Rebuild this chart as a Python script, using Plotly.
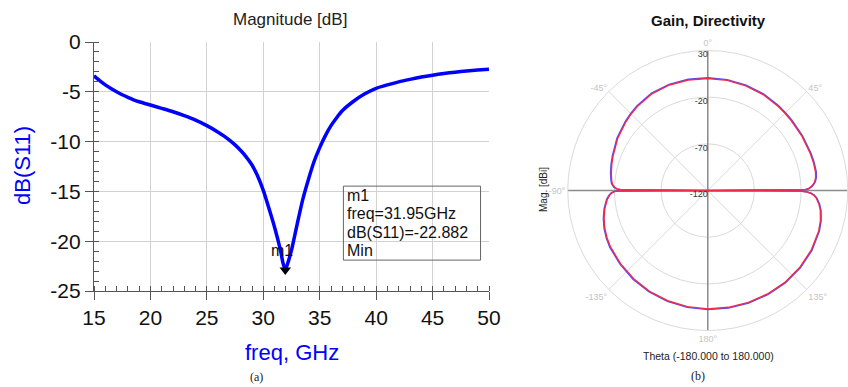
import plotly.graph_objects as go

# ---------------- (a) S11 data ----------------
freq_ghz = [15, 15.5, 16, 16.5, 17, 17.5, 18, 18.5, 19, 19.5, 20, 21, 22, 23, 24, 25, 26,
            26.5, 27, 27.5, 28, 28.5, 29, 29.5, 30, 30.5, 31, 31.5, 31.75, 31.95, 32.2,
            32.5, 33, 33.5, 34, 34.5, 35, 35.5, 36, 36.5, 37, 38, 39, 40, 41, 42, 43, 44,
            45, 46, 47, 48, 49, 50]
s11_db = [-3.4, -3.88, -4.3, -4.67, -5.0, -5.3, -5.56, -5.8, -6.0, -6.17, -6.33, -6.66,
          -7.0, -7.4, -7.85, -8.4, -9.05, -9.42, -9.85, -10.33, -10.9, -11.55, -12.35,
          -13.45, -14.9, -16.7, -18.6, -20.8, -22.2, -22.88, -22.1, -20.9, -18.3, -15.8,
          -13.8, -12.0, -10.6, -9.4, -8.4, -7.6, -6.9, -5.95, -5.2, -4.65, -4.3, -4.0,
          -3.75, -3.52, -3.33, -3.17, -3.03, -2.92, -2.82, -2.73]
m1_freq = 31.95
m1_db = -22.882
x_ticks = [15, 20, 25, 30, 35, 40, 45, 50]
y_ticks = [0, -5, -10, -15, -20, -25]
y_ticktext = ["0", "-5", "-10", "-15", "-20", "-25"]
marker_lines = ["m1", "freq=31.95GHz", "dB(S11)=-22.882", "Min"]

# ---------------- (b) polar pattern data ----------------
theta_deg = [-180, -170, -160, -150, -140, -130, -120, -115, -110, -105, -100, -95, -93,
             -91.5, -90.7, -90.3, -90,
             -89.5, -89, -88, -86, -84, -80, -75, -70, -60, -50, -45, -40, -30, -20, -10,
             0, 10, 20, 30, 40, 45, 50, 60, 70, 75, 80, 83, 85, 86, 87, 88, 89, 89.5,
             90, 90.3, 90.7, 91.5, 92.5, 94, 97, 100, 105, 110, 120, 130, 140, 150, 160,
             170, 180]
gain_dbi = [6.8, 6.4, 5.7, 4.8, 3.5, 2.0, 0.5, -0.8, -2.5, -5.0, -8.0, -12.0, -14.5,
            -17.0, -20.0, -24.0, -120,
            -27.0, -23.0, -20.0, -17.5, -16.5, -15.0, -13.5, -12.0, -8.5, -5.5, -4.0, -2.5,
            -0.3, 0.3, 0.2,
            0.0, -0.2, -0.6, -1.3, -2.4, -3.0, -3.3, -3.5, -3.2, -2.9, -2.8, -3.5, -4.8,
            -6.0, -7.5, -9.5, -12.5, -16.0,
            -120, -22.0, -15.0, -10.0, -6.5, -3.5, 0.0, 2.5, 5.0, 6.5, 8.0, 8.5, 8.5, 8.0,
            7.5, 7.1, 6.8]
directivity_dbi = [7.6, 7.2, 6.5, 5.6, 4.3, 2.8, 1.3, 0.0, -1.7, -4.2, -7.2, -11.2, -13.7,
                   -16.2, -19.2, -23.2, -120,
                   -26.2, -22.2, -19.2, -16.7, -15.7, -14.2, -12.7, -11.2, -7.7, -4.7,
                   -3.2, -1.7, 0.5, 1.1, 1.0,
                   0.8, 0.6, 0.2, -0.5, -1.6, -2.2, -2.5, -2.7, -2.4, -2.1, -2.0, -2.7,
                   -4.0, -5.2, -6.7, -8.7, -11.7, -15.2,
                   -120, -21.2, -14.2, -9.2, -5.7, -2.7, 0.8, 3.3, 5.8, 7.3, 8.8, 9.3, 9.3,
                   8.8, 8.3, 7.9, 7.6]
r_ticks = [-120, -70, -20, 30]
r_ticktext = ["-120", "-70", "-20", "30"]
ang_tickvals = [0, 45, 90, 135, 180, 225, 270, 315]
ang_ticktext = ["0°", "45°", "", "135°", "180°", "-135°", "-90°", "-45°"]
r_min, r_max = -120, 30

W, H = 848, 387
fig = go.Figure()

# (a) curve
fig.add_trace(go.Scatter(x=freq_ghz, y=s11_db, mode="lines",
                         line=dict(color="#0000ff", width=3.5, shape="spline",
                                   smoothing=0.6),
                         xaxis="x", yaxis="y", showlegend=False, hoverinfo="skip"))
fig.add_trace(go.Scatter(x=[m1_freq], y=[m1_db], mode="markers",
                         marker=dict(symbol="triangle-down", size=10, color="black"),
                         xaxis="x", yaxis="y", showlegend=False, hoverinfo="skip"))

# (b) axis lines through the centre
fig.add_trace(go.Scatterpolar(theta=[0, 0, 180], r=[r_max, r_min, r_max], mode="lines",
                              line=dict(color="#8c8c8c", width=1.5), subplot="polar",
                              showlegend=False, hoverinfo="skip"))
fig.add_trace(go.Scatterpolar(theta=[-90, -90, 90], r=[r_max, r_min, r_max], mode="lines",
                              line=dict(color="#8c8c8c", width=1.5), subplot="polar",
                              showlegend=False, hoverinfo="skip"))
# (b) pattern
fig.add_trace(go.Scatterpolar(theta=theta_deg, r=directivity_dbi, mode="lines",
                              line=dict(color="#5050ff", width=1.4), subplot="polar",
                              showlegend=False, hoverinfo="skip"))
fig.add_trace(go.Scatterpolar(theta=theta_deg, r=gain_dbi, mode="lines",
                              line=dict(color="#f0284a", width=1.4), subplot="polar",
                              showlegend=False, hoverinfo="skip"))
# (b) radial tick labels, left of the vertical axis line
fig.add_trace(go.Scatterpolar(theta=[0] * len(r_ticks), r=r_ticks, mode="text",
                              text=r_ticktext, textposition="bottom left",
                              textfont=dict(family="Liberation Sans, Arial, sans-serif",
                                            size=9, color="#333333"),
                              subplot="polar", showlegend=False, hoverinfo="skip"))

font_sans = "Liberation Sans, Arial, sans-serif"
axis_common = dict(showgrid=True, gridcolor="#d2d2d2", gridwidth=1, zeroline=False,
                   showline=True, linecolor="#555555", linewidth=1.2,
                   ticks="outside", ticklen=8, tickcolor="#555555", automargin=False,
                   tickfont=dict(family=font_sans, size=21, color="#111111"))

fig.update_layout(
    template="none",
    width=W, height=H, autosize=False,
    margin=dict(l=0, r=0, t=0, b=0, pad=0),
    paper_bgcolor="white", plot_bgcolor="white",
    font=dict(family=font_sans),
    xaxis=dict(domain=[94 / W, 489 / W], range=[15, 50], tickmode="array",
               tickvals=x_ticks, anchor="y",
               minor=dict(dtick=1, ticks="inside", ticklen=5, tickcolor="#555555",
                          showgrid=False),
               **axis_common),
    yaxis=dict(domain=[(H - 291) / H, (H - 42) / H], range=[-25, 0], tickmode="array",
               tickvals=y_ticks, ticktext=y_ticktext, anchor="x",
               minor=dict(dtick=1, ticks="inside", ticklen=5, tickcolor="#555555",
                          showgrid=False),
               **axis_common),
    polar=dict(
        domain=dict(x=[567.5 / W, 1.0], y=[(H - 330.5) / H, (H - 50.5) / H]),
        bgcolor="white",
        angularaxis=dict(rotation=90, direction="clockwise", tickmode="array",
                         tickvals=ang_tickvals, ticktext=ang_ticktext,
                         tickfont=dict(family=font_sans, size=9, color="#c4c4c4"),
                         gridcolor="#dadada", linecolor="#dadada", showline=True,
                         ticks=""),
        radialaxis=dict(range=[r_min, r_max], tickmode="array", tickvals=r_ticks,
                        angle=90, showticklabels=False,
                        showline=False, gridcolor="#dadada", ticks=""),
    ),
)


def label(text, px, py, size, color="#222222", family=font_sans, angle=0):
    return dict(text=text, x=px / W, y=1 - py / H, xref="paper", yref="paper",
                xanchor="center", yanchor="middle", showarrow=False, textangle=angle,
                font=dict(family=family, size=size, color=color))


ann = [
    label("Magnitude [dB]", 290, 19, 17),
    label("dB(S11)", 23, 166, 22, color="#0000ff", angle=-90),
    label("freq, GHz", 292, 352, 22, color="#0000ff"),
    label("(a)", 256, 377, 12, family="Liberation Serif, serif"),
    label("<b>Gain, Directivity</b>", 708, 20, 15, color="#111111"),
    label("Mag. [dBi]", 543, 190, 10, angle=-90),
    label("Theta (-180.000 to 180.000)", 708, 356, 10.5),
    label("(b)", 698, 376, 12, family="Liberation Serif, serif"),
]
ann.append(dict(text="m1", x=m1_freq, y=m1_db, xref="x", yref="y", showarrow=False,
                xanchor="center", yanchor="middle",
                yshift=19, xshift=-3, font=dict(family=font_sans, size=16, color="#111111")))
line_y = [-15.4, -17.245, -19.09, -20.935]
for t, yy in zip(marker_lines, line_y):
    ann.append(dict(text=t, x=37.25, y=yy, xref="x", yref="y", showarrow=False,
                    xanchor="left", yanchor="middle",
                    font=dict(family=font_sans, size=16, color="#111111")))
fig.update_layout(annotations=ann)
fig.add_shape(type="rect", xref="x", yref="y", x0=37.1, x1=49.25, y0=-21.9, y1=-14.47,
              line=dict(color="#666666", width=1), fillcolor="rgba(0,0,0,0)")

fig.write_html("out.html")
